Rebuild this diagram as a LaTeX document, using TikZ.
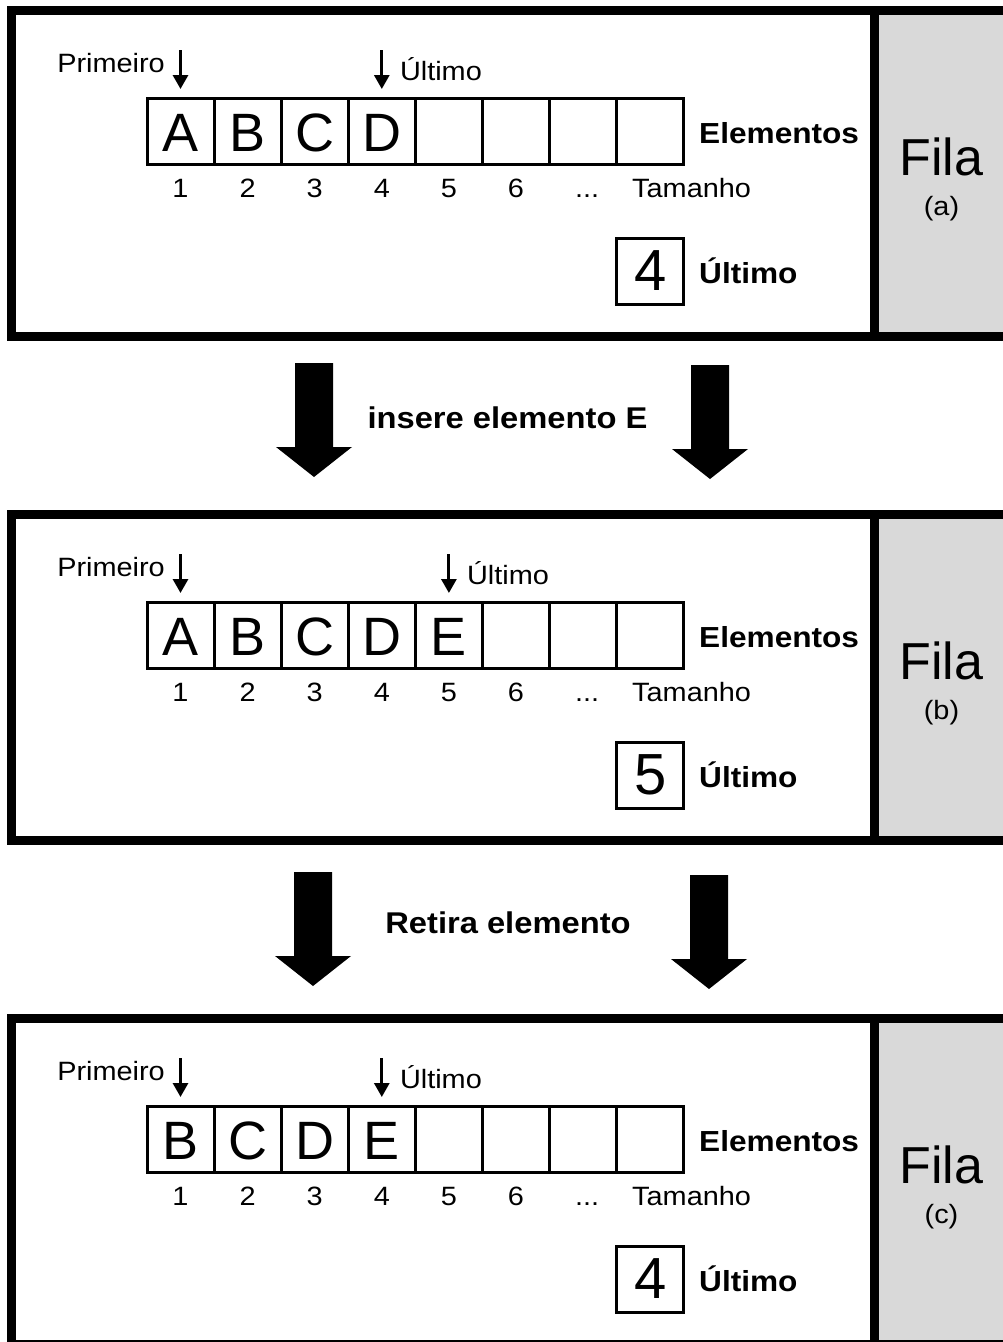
\documentclass[tikz,border=0pt]{standalone}
\usepackage{fontspec}
\setmainfont{Liberation Sans}[FakeStretch=1.09]
\newfontfamily\bigfont{Liberation Sans}
\usetikzlibrary{arrows.meta}
\definecolor{tagfill}{HTML}{D9D9D9}

\tikzset{
  cell/.style={draw, line width=3pt, minimum width=67pt, minimum height=66pt, inner sep=0pt,
    font=\bigfont\fontsize{54}{60}\selectfont, text height=41pt, text depth=0pt},
  lbl/.style={inner sep=0pt, font=\fontsize{26.5}{32}\selectfont},
  boldlbl/.style={inner sep=0pt, font=\fontsize{29}{34}\selectfont\bfseries},
  ptr/.style={line width=3pt, -{Triangle[width=15pt,length=14pt]}},
  frame/.style={line width=9pt},
}

\begin{document}
\begin{tikzpicture}[x=1pt, y=-1pt]
    \useasboundingbox (0,0) rectangle (1003,1342);
    \clip (0,0) rectangle (1003,1342);
    \foreach \k/\y/\last/\lab/\lst in {1/0/4/a/{A,B,C,D,{},{},{},{}},
                                      2/504/5/b/{A,B,C,D,E,{},{},{}},
                                      3/1008/4/c/{B,C,D,E,{},{},{},{}}} {
        % moldura
        \fill[tagfill] (874.5,\y+10.5) rectangle (1010,\y+336);
        \draw[frame] (11.5,\y+10.5) rectangle (1007.5,\y+336);
        \draw[frame] (874.5,\y+10.5) -- (874.5,\y+336);
        % vetor
        \foreach \t [count=\i] in \lst {
            \node[cell] (c\k-\i) at (113.4+67.1*\i,\y+131) {\t};
        }
        \foreach \i in {1,...,6} {
            \node[lbl, anchor=base] (n\k-\i) at ([yshift=-66pt]c\k-\i.center) {\i};
        }
        \node[lbl, anchor=base] (dots\k) at ([xshift=4pt,yshift=-66pt]c\k-7.center) {...};
        \node[lbl, anchor=base west] (tam\k) at (632,\y+197) {Tamanho};
        \node[boldlbl, anchor=base west] (el\k) at (699,\y+143) {Elementos};
        % ponteiros
        \node[lbl, anchor=base east] (pri\k) at ([xshift=-15.5pt,yshift=59pt]c\k-1.center) {Primeiro};
        \draw[ptr] ([yshift=46.5pt]c\k-1.north) -- ([yshift=7.5pt]c\k-1.north);
        \node[lbl, anchor=base west] (ult\k) at ([xshift=18pt,yshift=51pt]c\k-\last.center) {Último};
        \draw[ptr] ([yshift=46.5pt]c\k-\last.north) -- ([yshift=7.5pt]c\k-\last.north);
        % contador
        \node[cell, text height=37pt, font=\bigfont\fontsize{58}{64}\selectfont] (cnt\k)
            at ([yshift=-140.5pt]c\k-8.center) {\last};
        \node[boldlbl, anchor=base west] (uc\k) at (699,\y+283) {Último};
        % rotulo
        \node[anchor=base, inner sep=0pt, font=\bigfont\fontsize{52}{60}\selectfont] (fila\k)
            at (941.5,\y+175) {Fila};
        \node[lbl, anchor=base] (tag\k) at (941.5,\y+215) {(\lab)};
    }
    % setas grandes
    \foreach \x/\t in {314/363, 710/365, 313/872, 709/875} {
        \fill (\x-19,\t) -- (\x+19,\t) -- (\x+19,\t+84) -- (\x+38,\t+84)
            -- (\x,\t+114) -- (\x-38,\t+84) -- (\x-19,\t+84) -- cycle;
    }
    \node[boldlbl, anchor=base, font=\fontsize{30}{36}\selectfont\bfseries] (ins) at (507.5,428) {insere elemento E};
    \node[boldlbl, anchor=base, font=\fontsize{30}{36}\selectfont\bfseries] (ret) at (508,933) {Retira elemento};
\end{tikzpicture}
\end{document}
